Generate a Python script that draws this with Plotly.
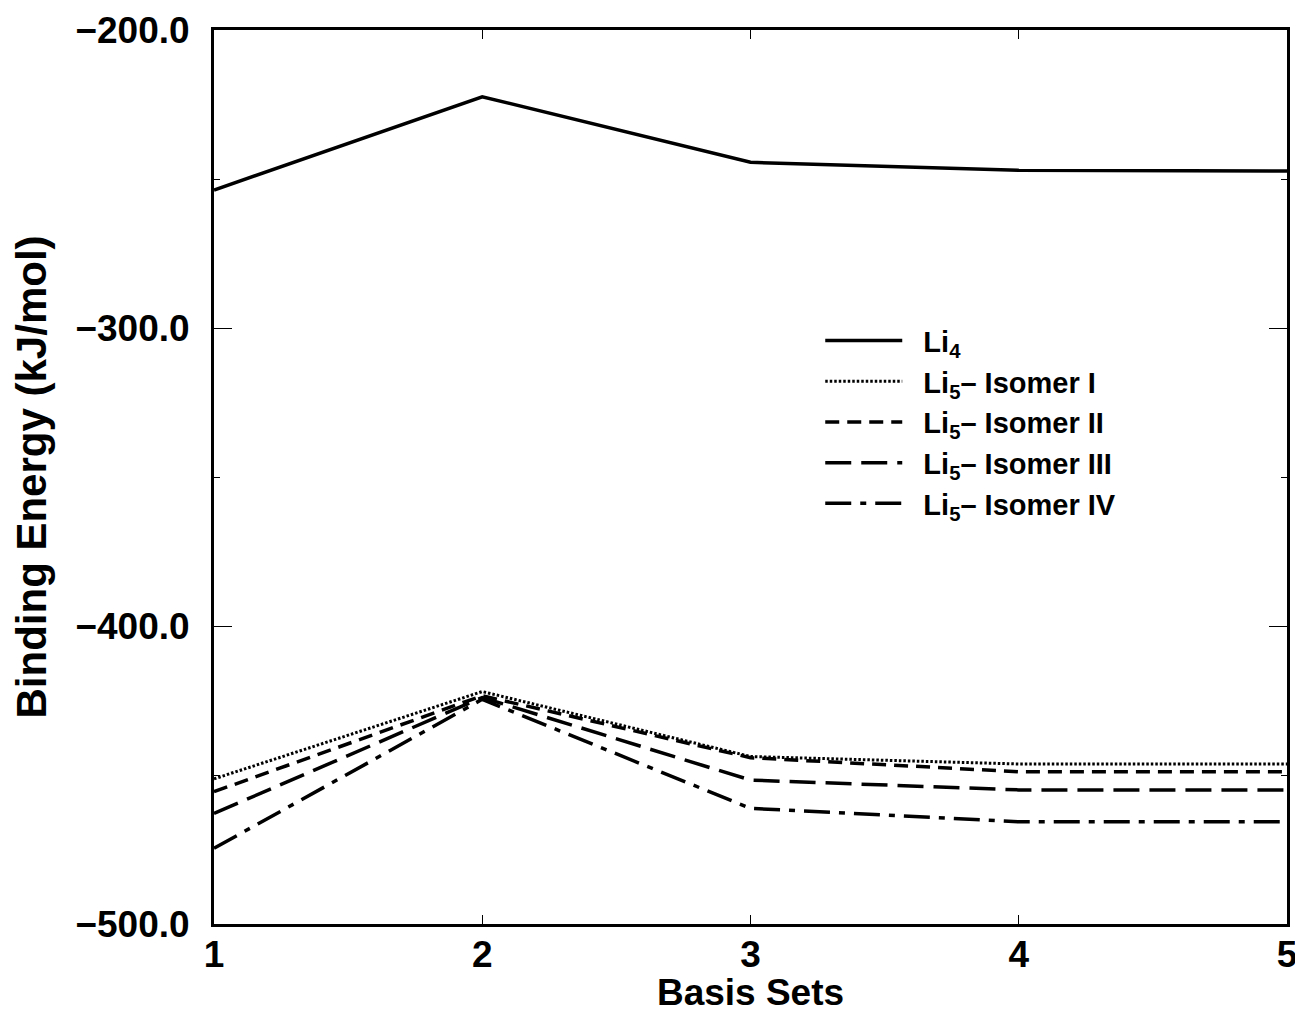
import plotly.graph_objects as go

basis_sets = [1, 2, 3, 4, 5]
li4 = [-253.7, -222.4, -244.4, -247.1, -247.3]
li5_iso1 = [-451.3, -422.0, -443.8, -446.3, -446.3]
li5_iso2 = [-455.6, -423.4, -444.2, -448.9, -448.9]
li5_iso3 = [-462.9, -424.0, -451.7, -455.0, -455.0]
li5_iso4 = [-474.6, -424.6, -461.2, -465.7, -465.7]

names = ["Li<sub>4</sub>", "Li<sub>5</sub>– Isomer I", "Li<sub>5</sub>– Isomer II",
         "Li<sub>5</sub>– Isomer III", "Li<sub>5</sub>– Isomer IV"]
series = [li4, li5_iso1, li5_iso2, li5_iso3, li5_iso4]
dashes = ["solid", "2.5px,2px", "14px,8px", "26px,10px", "26px,9px,6px,9px"]
widths = [3.5, 3, 3.5, 3.5, 3.5]

FONT = "Liberation Sans, Arial, Helvetica, sans-serif"
NB = "\u00a0\u00a0"

fig = go.Figure()
for n, s, d, w in zip(names, series, dashes, widths):
    fig.add_trace(go.Scatter(x=basis_sets, y=s, mode="lines", name=NB + n,
                             line=dict(color="black", width=w, dash=d)))

fig.update_layout(
    width=1295, height=1005,
    margin=dict(l=206, r=16, t=22, b=89),
    plot_bgcolor="white", paper_bgcolor="white",
    font=dict(family=FONT, color="black", size=29, weight="bold"),
    showlegend=True,
    legend=dict(x=0.565, y=0.681, xanchor="left", yanchor="top",
                bgcolor="rgba(0,0,0,0)", borderwidth=0,
                font=dict(size=29, family=FONT, weight="bold"),
                tracegroupgap=0, itemwidth=77),
)
fig.update_xaxes(
    range=[1, 5], tickvals=basis_sets, ticktext=[str(v) for v in basis_sets],
    showline=True, linecolor="black", linewidth=3, mirror="ticks",
    ticks="inside", ticklen=9, tickwidth=1, tickcolor="black",
    showgrid=False, zeroline=False, automargin=False,
    tickfont=dict(size=37, family=FONT, weight="bold"),
    ticklabelstandoff=-4,
    title=dict(text="Basis Sets", font=dict(size=37, family=FONT, weight="bold"), standoff=22),
)
fig.update_yaxes(
    range=[-500, -200], tickvals=[-500, -400, -300, -200], tickformat=".1f",
    showline=True, linecolor="black", linewidth=3, mirror="ticks",
    ticks="inside", ticklen=18, tickwidth=1, tickcolor="black",
    minor=dict(tickvals=[-450, -350, -250], ticks="inside", ticklen=6, tickwidth=1, tickcolor="black"),
    showgrid=False, zeroline=False, automargin=False,
    tickfont=dict(size=37, family=FONT, weight="bold"),
    ticklabelstandoff=14,
    title=dict(text="Binding Energy (kJ/mol)", font=dict(size=42, family=FONT, weight="bold"), standoff=17),
)

fig.write_html("out.html")
